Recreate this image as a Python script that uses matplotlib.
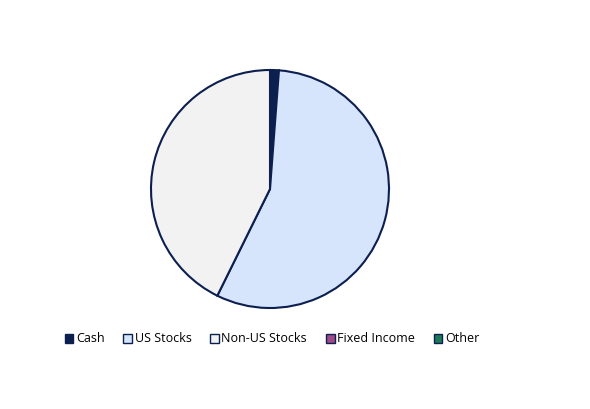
import matplotlib.pyplot as plt
from matplotlib.patches import Patch

labels = ["Cash", "US Stocks", "Non-US Stocks", "Fixed Income", "Other"]
values = [1.2, 56.1, 42.7, 0.0, 0.0]
colors = ["#0c2050", "#d6e4fc", "#f2f2f2", "#9e4a86", "#1b7a5a"]
edge = "#0c1f4f"

fig = plt.figure(figsize=(5.9, 4.09), dpi=100)

# pie in its own axes so the circle keeps its shape
r = 119
pax = fig.add_axes([(270 - r) / 590, 1 - (189 + r) / 409, 2 * r / 590, 2 * r / 409])
pax.pie([v for v in values if v > 0],
        colors=[c for c, v in zip(colors, values) if v > 0],
        startangle=90, counterclock=False, radius=1,
        wedgeprops=dict(edgecolor=edge, linewidth=1.5))
pax.set_xlim(-1, 1)
pax.set_ylim(-1, 1)
pax.set_aspect("auto")
pax.axis("off")

handles = [Patch(facecolor=c, edgecolor=edge, linewidth=1.0) for c in colors]
fig.legend(handles, labels, loc="center", bbox_to_anchor=(272 / 590, 1 - 339 / 409),
           ncol=5, frameon=False, handlelength=0.7, handleheight=0.7,
           handletextpad=0.2, columnspacing=1.5,
           prop=dict(family="Open Sans", size=9))

fig.savefig("out.png", dpi=100)
